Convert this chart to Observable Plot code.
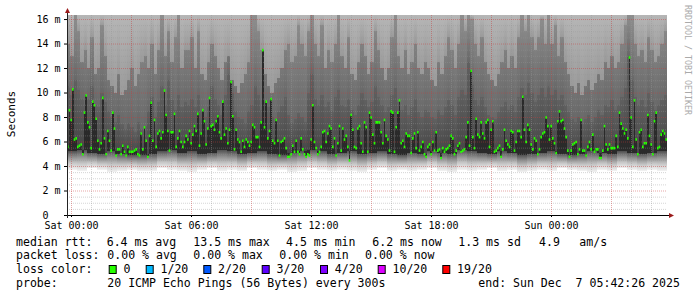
<!DOCTYPE html>
<html><head><meta charset="utf-8">
<script src="https://cdn.jsdelivr.net/npm/d3@7"></script>
<script src="https://cdn.jsdelivr.net/npm/@observablehq/plot@0.6"></script>
<style>
html,body{margin:0;padding:0;background:#fff;}
#chart svg{display:block;}
</style></head><body><div id="chart"></div>
<script>
// median RTT (ms), one value every 5 minutes, starting Fri 23:48 UTC
const medianRtt = [
5.6,8.6,7.8,10.3,6.2,6.3,5.6,5.7,5.8,5.0, 8.4,9.8,7.6,7.2,5.5,9.3,9.0,7.9,6.1,5.4,
5.9,9.6,6.3,5.0,6.9,6.1,5.3,8.4,7.1,4.9, 5.4,5.4,5.0,5.7,5.2,4.9,5.6,5.2,5.2,5.2,
5.3,5.4,5.0,4.9,6.7,5.4,7.2,6.1,4.8,6.5, 9.2,6.1,7.8,5.6,6.7,6.9,6.3,6.8,10.2,8.2,
6.9,5.3,6.8,6.8,8.3,5.6,6.3,6.9,6.0,5.6, 6.0,6.5,
6.2,6.9,5.9,6.6,7.3,6.9,8.3,5.7,6.7,8.6, 7.7,5.8,7.1,9.6,7.3,7.4,7.0,7.7,8.1,6.8,
6.3,9.3,6.6,7.1,5.9,7.0,10.9,8.1,5.4,7.0, 6.2,6.0,5.2,6.1,5.6,6.2,6.0,5.7,6.0,7.4,
7.2,6.4,6.4,5.6,7.6,13.5,7.2,9.3,6.3,6.9, 9.5,6.1,5.9,7.8,6.1,4.9,6.0,6.1,6.3,5.5,
4.8,4.8,5.0,5.7,5.2,6.1,5.2,5.0,6.3,5.4, 5.0,4.8,
5.0,4.9,6.2,9.0,6.0,5.5,5.0,5.2,5.6,6.8, 6.9,6.0,6.7,7.3,7.1,5.6,6.3,4.9,5.9,7.3,
5.3,7.1,6.2,6.5,5.6,4.5,8.2,7.0,5.6,5.5, 7.1,7.3,5.9,5.2,7.6,7.2,5.2,8.4,8.0,6.6,
5.9,7.6,7.6,7.6,6.8,5.9,7.8,6.5,6.2,5.3, 8.5,8.4,5.2,7.2,8.4,9.4,5.9,6.1,5.6,6.7,
6.5,6.5,5.1,6.3,6.7,5.5,6.8,5.3,5.6,6.0, 5.0,4.8,
5.6,5.8,5.0,6.0,5.3,6.8,5.3,5.4,4.7,5.5, 5.2,5.4,5.5,5.7,6.5,6.3,5.0,5.3,5.7,5.9,
5.2,5.3,5.4,6.4,7.6,5.7,11.8,6.4,5.5,7.9, 6.6,6.4,7.6,6.7,6.3,7.6,7.8,5.6,7.0,7.7,
5.2,5.3,5.5,5.7,4.8,5.4,7.0,6.1,5.8,5.6, 6.9,6.8,5.3,6.0,6.9,6.9,6.4,9.7,7.0,6.0,
7.4,7.0,5.8,5.4,6.3,6.1,5.0,5.4,6.4,6.7, 6.8,8.0,
7.3,6.2,7.3,6.3,5.9,5.1,7.7,8.5,7.7,7.8, 7.1,6.4,5.3,4.8,5.3,5.8,5.9,6.0,5.0,5.4,
7.8,5.3,5.3,4.9,5.6,6.0,5.4,6.6,5.2,5.4, 5.4,4.7,4.7,5.3,7.3,5.8,5.4,5.8,5.5,5.5,
5.5,6.5,5.6,8.4,7.5,7.1,6.7,7.0,6.3,12.9, 8.0,5.6,9.4,6.2,5.0,6.8,7.0,5.6,5.9,5.9,
8.2,6.5,5.8,5.0,7.7,8.4,5.5,5.6,6.6,6.9, 6.7,6.2
];
// smoke: upper edge of the dense ping band (ms), every 10 minutes
const smokeQ3 = [
10.5,9.8,11,10.2,9.5,9.0, 9.5,10.5,9.0,8.8,10.0,9.2,8.5, 8.0,7.6,8.2,7.4,7.0,7.5,7.2,6.8,7.6,7.0,7.3,
8.5,9.6,8.0,9.2,10.5,9.0,11.0,9.4,8.6,9.8,8.8,9.2,
9.0,9.5,8.8,9.8,8.5,8.0,8.8,10.5,9.5,9.0,8.2,9.8,11.5,10.0,8.5,8.0,7.8,7.5,8.5,9.0,10.5,9.8,8.6,9.2,8.8,8.0,7.6,8.4,8.9,9.6,8.2,7.5,7.8,8.3,8.0,7.6,
10.0,11.5,9.5,9.0,9.8,8.8,9.2,8.5,9.6,10.2,9.0,8.8,9.5,8.6,8.2,9.0,10.0,9.4,8.8,9.2,10.5,9.6,9.0,8.4,8.8,9.8,10.4,9.2,8.6,9.0,8.2,8.8,9.5,8.4,8.0,8.6,
8.4,8.0,7.8,8.6,8.2,8.8,9.4,9.0,8.2,9.6,10.2,9.8,12.5,10.6,9.4,9.0,9.6,8.8,8.2,8.0,7.8,8.4,8.8,9.2,8.6,9.0,8.4,9.6,10.4,9.8,10.8,10.0,9.2,9.8,10.4,9.6,
10.5,9.8,10.2,9.4,9.8,9.0,8.4,7.8,7.6,8.0,7.4,7.8,8.2,7.6,8.0,8.6,8.2,9.0,8.8,9.4,8.6,9.0,9.6,10.4,13.0,11.0,9.6,9.0,9.4,8.8,10.0,9.2,8.6,9.0,9.4,9.8
];
// smoke: upper edge of the medium band (ms), every 10 minutes
const smokeHi = [
14,13,16.5,15,12.5,13.5, 12,14.5,11.5,12,15.5,13,11, 10.5,10,11.5,9.8,10.2,11,12,10.5,11.5,12.5,13,
12,14,11.5,13.5,16.5,13,15,12.5,14.5,16.5,12,13.5,
13.5,14.5,12.0,15.0,11.5,11.0,12.5,14.0,13.0,12.0,11.0,12.5,13.0,11.0,10.5,10.0,10.8,11.5,12.5,16.5,16.5,15.0,13.5,11.5,10.5,10.0,10.8,11.2,12.0,13.5,14.0,12.5,13.0,15.5,14.0,13.0,
15.0,16.5,14.0,13.0,15.5,12.0,13.5,12.5,14.0,16.5,13.0,12.0,14.5,11.5,11.0,12.5,14.0,13.0,11.5,12.5,15.0,13.5,12.0,11.0,12.0,14.5,16.5,13.0,12.0,13.5,11.5,12.5,14.0,12.0,11.5,12.5,
12.0,11.0,10.5,12.5,11.5,13.0,14.5,13.5,12.0,14.0,16.5,15.0,16.5,16.0,14.0,13.0,14.5,12.5,11.5,11.0,10.5,11.5,12.5,13.5,12.0,13.0,12.0,14.5,16.5,15.0,16.5,14.5,13.5,14.5,16.0,14.0,
16.5,14.0,15.5,13.0,14.5,12.5,11.5,10.5,10.0,10.8,9.8,10.5,11.0,10.2,10.8,11.5,11.0,12.5,12.0,13.0,12.0,12.5,14.0,15.5,16.5,16.5,14.0,13.0,13.5,12.5,14.5,13.5,12.5,13.0,14.0,15.0
];
// smoke: lowest ping (ms), every 30 minutes
const smokeLo = [
3.7,3.6,3.8,3.7,3.5,3.6,3.7,3.6,3.6,3.8,3.7,3.6,3.5,3.7,3.8,3.6,3.7,3.6,3.8,3.7,
3.6,3.7,3.5,3.6,3.8,3.7,3.6,3.7,3.6,3.5,3.7,3.8,3.6,3.7,3.6,3.7,3.8,3.6,3.5,3.7,
3.6,3.7,3.8,3.6,3.7,3.5,3.6,3.7,3.6,3.8,3.7,3.6,3.5,3.7,3.6,3.8,3.7,3.6,3.7,3.6
];
// smoke: lower edge of the dense ping band (ms), every 30 minutes
const smokeQ1 = [
5.2,5.3,5.1,5.0,5.2,5.0,4.9,4.9,5.0,5.2,5.3,5.1,5.2,5.0,5.1,5.3,5.2,5.0,5.1,5.2,
5.0,4.9,5.1,5.2,5.3,5.2,5.0,5.1,5.2,5.0,5.1,5.2,5.0,4.9,5.1,5.0,5.2,5.1,5.0,5.3,
5.2,5.1,5.0,5.2,5.1,4.9,5.0,5.1,5.2,5.0,4.9,5.0,5.2,5.1,5.0,5.2,5.1,5.0,5.1,5.2
];
const yTicks = [0,2,4,6,8,10,12,14,16];
const rttStats = [["6.4","ms avg"],["13.5","ms max"],["4.5","ms min"],["6.2","ms now"],["1.3","ms sd"]];
const amS = "4.9";
const lossStats = [["0.00","% avg"],["0.00","% max"],["0.00","% min"],["0.00","% now"]];
const lossLabels = ["0","1/20","2/20","3/20","4/20","10/20","19/20"];
const lossColors = ["#26ff00","#00b8ff","#0059ff","#5e00ff","#7e00ff","#dd00ff","#ff0000"];
const probeText = "20 ICMP Echo Pings (56 Bytes) every 300s";
const endText = "end: Sun Dec  7 05:42:26 2025";

const MIN = 60000;
const t0 = Date.UTC(2025, 11, 5, 23, 48);
const xDomain = [new Date(t0), new Date(t0 + 30*60*MIN)];
const yTop = 16.33;

const medData = medianRtt.map((v,i)=>({t1:new Date(t0+i*5*MIN), t2:new Date(t0+(i+1)*5*MIN), med:v, q1:smokeQ1[Math.floor(i/6)]}));
const smokeData = smokeQ3.map((v,i)=>({t1:new Date(t0+i*10*MIN), t2:new Date(t0+(i+1)*10*MIN), q3:v, hi:smokeHi[i], q1:smokeQ1[Math.floor(i/3)]}));
const lowData = smokeLo.map((v,i)=>({t1:new Date(t0+i*30*MIN), t2:new Date(t0+(i+1)*30*MIN), lo:v, q1:smokeQ1[i]}));

const hours = d3.utcHour.range(xDomain[0], xDomain[1]);
const majorHours = hours.filter(d=>d.getUTCHours()%3===0);
const minorHours = hours.filter(d=>d.getUTCHours()%3!==0);
const labelHours = hours.filter(d=>d.getUTCHours()%6===0);
const yMajor = yTicks.filter(v=>v>0);
const yMinor = d3.range(0.5, 16.01, 0.5).filter(v=>v%2!==0);
const yTopFn = () => yTop;
const crisp = {shapeRendering:"crispEdges", clip:true};

const plot = Plot.plot({
  width: 697, height: 297,
  marginLeft: 67, marginRight: 30, marginTop: 15, marginBottom: 82,
  style: {fontFamily: "'DejaVu Sans Mono', monospace", fontSize: "10px", background: "#fff", color: "#000"},
  x: {type: "utc", domain: xDomain},
  y: {domain: [0, yTop]},
  marks: [
    Plot.rect(smokeData, {x1:"t1", x2:"t2", y1:"q3", y2:yTopFn, fill:"url(#midgrad)", ...crisp}),
    Plot.rect(smokeData, {x1:"t1", x2:"t2", y1:"hi", y2:yTopFn, fill:"url(#topgrad)", ...crisp}),
    Plot.rect(smokeData, {x1:"t1", x2:"t2", y1:"q1", y2:"q3", fill:"url(#densegrad)", ...crisp}),
    Plot.rect(lowData, {x1:"t1", x2:"t2", y1:"lo", y2:"q1", fill:"url(#lowgrad)", ...crisp}),
    Plot.rect(medData, {x1:"t1", x2:"t2", y1:"q1", y2:"med", fill:"#2a2a2a", ...crisp}),
    Plot.ruleY(yMinor, {stroke:"rgba(150,150,150,0.4)", strokeDasharray:"1,1"}),
    Plot.ruleX(minorHours, {stroke:"rgba(150,150,150,0.4)", strokeDasharray:"1,1"}),
    Plot.ruleY(yMajor, {stroke:"rgba(200,60,60,0.45)", strokeDasharray:"1,1"}),
    Plot.ruleX(majorHours, {stroke:"rgba(200,60,60,0.45)", strokeDasharray:"1,1"}),
    Plot.ruleY(medData, {x1:"t1", x2:"t2", y:"med", stroke:lossColors[0], strokeWidth:2.6}),
    Plot.axisX({ticks: labelHours, tickFormat: d3.utcFormat("%a %H:%M"), tickSize: 2, tickPadding: 4, label: null, fontSize: 10}),
    Plot.axisY({ticks: yTicks, tickFormat: d => d === 0 ? "0\u00a0\u00a0" : d + " m", tickSize: 3, tickPadding: 4, label: null, fontSize: 10})
  ]
});
document.getElementById("chart").appendChild(plot);

const svg = d3.select(plot);
const defs = svg.insert("defs", ":first-child");
function gradient(id, stops){
  const gr = defs.append("linearGradient").attr("id",id).attr("x1",0).attr("y1",1).attr("x2",0).attr("y2",0);
  stops.forEach(([o,c])=>gr.append("stop").attr("offset",o).attr("stop-color",c));
}
gradient("lowgrad", [[0,"#f2f2f2"],[0.35,"#c8c8c8"],[0.7,"#8c8c8c"],[1,"#525252"]]);
gradient("densegrad", [[0,"#464646"],[1,"#606060"]]);
gradient("midgrad", [[0,"#686868"],[0.5,"#7c7c7c"],[1,"#8e8e8e"]]);
gradient("topgrad", [[0,"#9a9a9a"],[1,"#b6b6b6"]]);

const xs = plot.scale("x"), ys = plot.scale("y");
const X0 = xs.apply(xDomain[0]), X1 = xs.apply(xDomain[1]);
const Y0 = ys.apply(0), YT = ys.apply(yTop);
const deco = svg.append("g").attr("text-anchor","start");
deco.append("line").attr("x1",X0-2.5).attr("x2",X1+3).attr("y1",Y0+0.5).attr("y2",Y0+0.5).attr("stroke","#000");
deco.append("line").attr("x1",X0+0.5).attr("x2",X0+0.5).attr("y1",Y0+3).attr("y2",YT-3).attr("stroke","#222");
deco.append("path").attr("d",`M${X0-2},${YT-2}L${X0+3},${YT-2}L${X0+0.5},${YT-7}Z`).attr("fill","#9b1b1b");
deco.append("path").attr("d",`M${X1+2},${Y0-2}L${X1+2},${Y0+3}L${X1+7},${Y0+0.5}Z`).attr("fill","#9b1b1b");

const mono = "'DejaVu Sans Mono', monospace";
deco.append("text").attr("transform",`translate(15,${(Y0+YT)/2-1}) rotate(-90)`).attr("text-anchor","middle")
  .attr("font-family",mono).attr("font-size",11).attr("fill","#000").text("Seconds");
deco.append("text").attr("transform","translate(685,5) rotate(90)").attr("text-anchor","start").attr("font-family",mono)
  .attr("font-size",8.3).attr("fill","#aaa").text("RRDTOOL / TOBI OETIKER");

const leg = svg.append("g").attr("font-family",mono).attr("font-size",11.55).attr("fill","#000")
  .attr("text-anchor","start").style("white-space","pre");
function addText(x,y,s){ leg.append("text").attr("x",x).attr("y",y).attr("text-anchor","start").text(s); }
const L = [245.5, 259, 273, 286.6];
addText(16, L[0], "median rtt:");
const rttX = [106.7, 193.3, 286, 372.3, 458.3];
rttStats.forEach(([v,u],i)=>addText(rttX[i], L[0], v+" "+u));
addText(539, L[0], amS); addText(579.3, L[0], "am/s");
addText(16, L[1], "packet loss:");
const lossX = [107.3, 193.3, 279.3, 365];
lossStats.forEach(([v,u],i)=>addText(lossX[i], L[1], v+" "+u));
addText(16, L[2], "loss color:");
const boxX = [108.7, 145.7, 203.3, 261.7, 320, 377.7, 442.3];
lossLabels.forEach((lab,i)=>{
  leg.append("rect").attr("x",boxX[i]+0.5).attr("y",265.5).attr("width",7).attr("height",8).attr("fill",lossColors[i]).attr("stroke","#000");
  addText(boxX[i]+14.8, L[2], lab);
});
addText(16, L[3], "probe:");
addText(107.3, L[3], probeText);
addText(478.3, L[3], endText);
</script>
</body></html>
